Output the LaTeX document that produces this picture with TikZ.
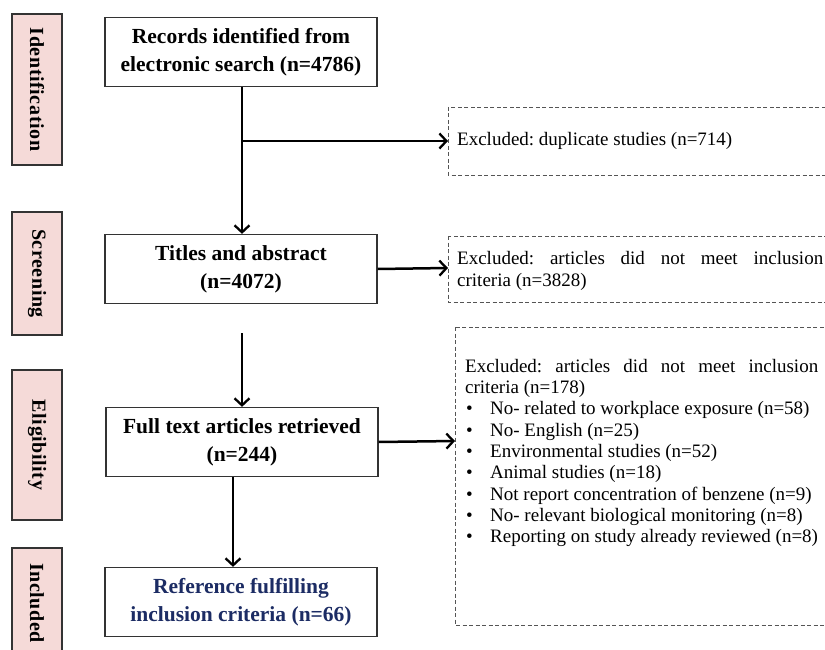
\documentclass[tikz,border=0pt]{standalone}
\usepackage{fontspec}
\setmainfont{Liberation Serif}
\usetikzlibrary{arrows.meta}
\definecolor{phasepink}{HTML}{F5DAD8}
\definecolor{navytext}{HTML}{1C2C64}
\definecolor{lineg}{HTML}{333333}
\definecolor{dashg}{HTML}{555555}
\tikzset{
  phase/.style={draw=lineg, line width=1.3pt, fill=phasepink, minimum width=50pt, inner sep=0pt},
  phasetext/.style={font=\fontsize{20}{22}\selectfont\bfseries\addfontfeatures{LetterSpace=3}, rotate=-90},
  mainbox/.style={draw=lineg, line width=1.3pt, fill=white, minimum width=272pt, minimum height=69pt, align=center, inner sep=0pt, font=\fontsize{21.5}{28}\selectfont\bfseries},
  exbox/.style={draw=dashg, line width=0.8pt, dash pattern=on 4pt off 2.5pt},
  extext/.style={font=\fontsize{19}{21.3}\selectfont, anchor=west, inner sep=0pt, align=left},
  arr/.style={line width=2.5pt, -{Straight Barb[length=7pt,width=15pt,line width=2.3pt]}},
}
\frenchspacing
\begin{document}
\begin{tikzpicture}[x=1pt,y=-1pt]
\clip (0,0) rectangle (825,650);
\fill[white] (0,0) rectangle (825,650);
% phase labels
\node[phase, minimum height=151pt] (pid) at (37,89.5) {};
\node[phasetext] at (pid.center) {Identification};
\node[phase, minimum height=123pt] (psc) at (37,273.5) {};
\node[phasetext] at (psc.center) {Screening};
\node[phase, minimum height=150pt] (pel) at (37,445) {};
\node[phasetext] at (pel.center) {Eligibility};
\node[phase, minimum height=110pt] (pin) at (37,603) {};
\node[phasetext] at (pin.center) {Included};
% main boxes
\node[mainbox] (rec) at (241,52) {Records identified from\\electronic search (n=4786)};
\node[mainbox] (tit) at (241,269) {Titles and abstract\\(n=4072)};
\node[mainbox] (ful) at (242,442) {Full text articles retrieved\\(n=244)};
\node[mainbox, text=navytext] (ref) at (241,602) {Reference fulfilling\\inclusion criteria (n=66)};
% exclusion boxes
\draw[exbox] (448,107) rectangle (832,175);
\coordinate (ex1) at (448,141);
\node[extext] (t1) at (457,141) {Excluded: duplicate studies (n=714)};
\draw[exbox] (448,236) rectangle (832,302);
\coordinate (ex2) at (448,268);
\node[extext] (t2) at (457,271) {\makebox[366pt][s]{Excluded: articles did not meet inclusion}\\criteria (n=3828)};
\draw[exbox] (455,327) rectangle (832,625);
\coordinate (ex3) at (455,441);
\node[extext, anchor=north west] (t3) at (465,359) {\makebox[353pt][s]{Excluded: articles did not meet inclusion}\\criteria (n=178)\\
\makebox[25pt][l]{\hspace{1pt}•}No- related to workplace exposure (n=58)\\
\makebox[25pt][l]{\hspace{1pt}•}No- English (n=25)\\
\makebox[25pt][l]{\hspace{1pt}•}Environmental studies (n=52)\\
\makebox[25pt][l]{\hspace{1pt}•}Animal studies (n=18)\\
\makebox[25pt][l]{\hspace{1pt}•}Not report concentration of benzene (n=9)\\
\makebox[25pt][l]{\hspace{1pt}•}No- relevant biological monitoring (n=8)\\
\makebox[25pt][l]{\hspace{1pt}•}Reporting on study already reviewed (n=8)};
% connectors
\coordinate (br) at (242,141);
\draw[arr] (rec.south -| br) -- (tit.north -| br);
\draw[arr] (br) -- (ex1);
\draw[arr] (tit.east) -- (ex2);
\coordinate (gap) at (242,333);
\draw[arr] (gap) -- (ful.north -| gap);
\draw[arr] (ful.east) -- (ex3);
\coordinate (fr) at (233,476);
\draw[arr] (ful.south -| fr) -- (ref.north -| fr);
\end{tikzpicture}
\end{document}
